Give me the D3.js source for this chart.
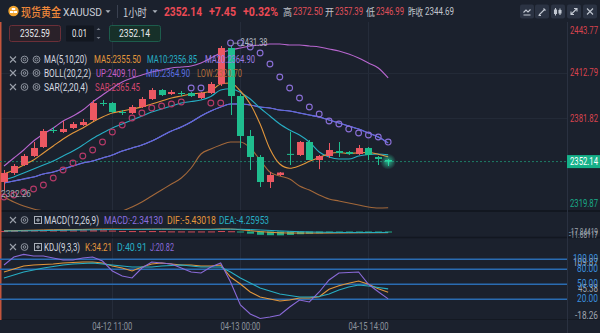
<!DOCTYPE html>
<html><head><meta charset="utf-8">
<script src="https://cdn.jsdelivr.net/npm/d3@7/dist/d3.min.js"></script>
<style>
html,body{margin:0;padding:0;background:#1b212d;overflow:hidden;}
svg{display:block;font-family:Roboto,"Noto Sans","Noto Sans CJK SC",sans-serif;}
</style></head><body>
<svg id="chart" width="600" height="333"></svg>
<script>
// ---------------- DATA ----------------
const times = [
 "04-12 00:00","04-12 01:00","04-12 02:00","04-12 03:00","04-12 04:00","04-12 05:00","04-12 06:00","04-12 07:00",
 "04-12 08:00","04-12 09:00","04-12 10:00","04-12 11:00","04-12 12:00","04-12 13:00","04-12 14:00","04-12 15:00",
 "04-12 16:00","04-12 17:00","04-12 18:00","04-12 19:00","04-12 20:00","04-12 21:00","04-12 22:00","04-12 23:00",
 "04-13 00:00","04-13 01:00","04-13 02:00","04-13 03:00","04-13 04:00",
 "04-15 06:00","04-15 07:00","04-15 08:00","04-15 09:00","04-15 10:00","04-15 11:00","04-15 12:00","04-15 13:00",
 "04-15 14:00","04-15 15:00","04-15 16:00"];
const timeTicks = ["04-12 11:00","04-13 00:00","04-15 14:00"];
const priceTicks = [2443.77, 2412.79, 2381.82, 2319.87];

const open  = [2338.24,2344.37,2349.82,2355.95,2362.07,2373.65,2372.29,2375.01,2377.05,2380.46,2392.03,2392.03,2385.90,2385.22,2389.31,2394.75,2400.88,2398.16,2398.84,2398.84,2395.43,2398.84,2404.96,2429.47,2396.79,2369.56,2355.27,2338.24,2343.01,2357.39,2356.63,2365.48,2353.22,2355.95,2359.35,2358.67,2357.31,2361.39,2355.27,2353.22];
const high  = [2346.41,2350.50,2357.31,2365.48,2374.33,2375.69,2379.77,2379.09,2381.14,2394.07,2394.07,2392.71,2387.26,2390.67,2396.11,2402.24,2401.56,2400.88,2400.20,2399.52,2399.52,2406.33,2430.84,2431.38,2398.16,2373.65,2356.63,2345.05,2345.05,2372.50,2366.16,2366.84,2356.63,2364.80,2365.48,2359.35,2363.44,2362.07,2355.95,2353.90];
const low   = [2332.26,2343.01,2349.14,2355.27,2361.39,2371.61,2371.61,2374.33,2376.37,2379.77,2389.99,2385.22,2383.86,2384.54,2388.63,2394.07,2396.79,2397.48,2396.79,2396.11,2394.75,2398.16,2403.60,2383.86,2361.39,2346.41,2334.84,2334.16,2342.33,2349.82,2355.95,2353.22,2346.99,2354.59,2355.27,2356.63,2356.63,2353.22,2349.82,2349.14];
const close = [2344.37,2349.14,2355.95,2361.39,2372.97,2372.97,2374.33,2377.73,2379.09,2392.03,2391.35,2385.90,2385.22,2389.31,2394.75,2400.88,2397.48,2399.52,2398.16,2396.79,2398.84,2404.96,2429.47,2396.79,2369.56,2355.27,2338.24,2343.01,2344.69,2356.80,2365.48,2353.22,2355.95,2360.03,2357.99,2357.31,2361.39,2356.63,2353.90,2352.14];

const ma5  = [2343.69,2346.41,2349.82,2353.22,2357.99,2362.76,2367.52,2371.61,2375.01,2379.09,2382.50,2385.22,2386.58,2387.94,2389.31,2391.35,2393.39,2395.43,2396.79,2398.16,2398.84,2400.20,2404.96,2405.65,2400.20,2391.35,2377.73,2360.71,2350.50,2347.60,2349.30,2352.30,2355.00,2357.50,2358.30,2357.60,2358.20,2358.30,2357.20,2355.50];
const ma10 = [2339.61,2341.65,2344.37,2347.10,2349.82,2352.54,2355.95,2359.35,2363.44,2367.86,2371.61,2375.01,2377.73,2380.46,2383.18,2385.90,2387.94,2389.99,2392.03,2393.05,2394.07,2396.45,2400.88,2401.76,2399.25,2394.75,2388.63,2383.18,2377.73,2373.65,2370.24,2365.48,2358.67,2355.27,2353.90,2353.90,2355.95,2356.97,2357.31,2356.85];
const ma20 = [2337.57,2338.93,2340.29,2341.65,2343.69,2345.05,2347.10,2349.14,2351.18,2352.54,2354.59,2356.63,2359.35,2361.39,2363.44,2366.16,2369.56,2372.97,2375.69,2379.09,2383.18,2386.58,2389.31,2391.35,2391.35,2390.67,2389.31,2388.63,2387.26,2386.58,2385.22,2383.86,2382.50,2380.46,2378.41,2376.37,2374.33,2371.61,2368.88,2364.90];
const bollUp  = [2349.14,2354.59,2360.03,2366.16,2370.93,2375.01,2379.77,2383.18,2387.26,2392.71,2397.48,2402.24,2406.33,2409.05,2411.09,2413.13,2414.50,2415.86,2416.54,2417.22,2419.26,2422.66,2426.07,2428.11,2429.47,2430.84,2431.52,2432.20,2432.20,2431.52,2431.52,2430.84,2430.15,2428.79,2427.43,2425.39,2422.66,2419.26,2415.86,2409.10];
const bollMid = ma20; // BOLL MID equals MA20
const bollLow = [2328.03,2324.63,2321.91,2319.87,2318.50,2317.14,2316.46,2315.78,2315.78,2316.46,2316.46,2317.14,2318.50,2321.23,2324.63,2328.71,2332.80,2336.89,2340.97,2347.78,2357.31,2360.71,2363.44,2365.48,2365.48,2361.39,2353.22,2345.05,2342.33,2340.29,2335.52,2332.80,2329.39,2326.67,2325.31,2323.95,2322.59,2321.23,2320.55,2320.70];
const sar = [2328.03,2329.39,2331.44,2333.48,2336.21,2340.97,2346.41,2351.18,2355.95,2360.03,2365.48,2372.29,2377.05,2381.82,2385.22,2388.63,2389.99,2391.35,2392.71,2402.24,2402.24,2392.03,2392.03,2432.90,2432.90,2430.15,2426.07,2418.58,2409.73,2402.24,2395.43,2389.31,2384.54,2379.77,2377.73,2374.33,2371.61,2370.24,2368.88,2365.45];

const dif  = [3.0,4.0,5.0,6.0,7.0,8.0,8.5,9.0,9.5,10.5,11.0,11.0,10.5,10.5,10.5,11.0,11.0,10.6,10.3,10.0,9.9,9.9,11.5,11.2,8.0,4.0,-0.5,-3.5,-6.0,-7.0,-7.0,-7.2,-7.2,-6.9,-6.6,-6.3,-5.9,-5.7,-5.6,-5.43];
const dea  = [2.0,2.4,2.9,3.5,4.2,5.0,5.7,6.4,7.0,7.7,8.4,8.9,9.2,9.5,9.7,10.0,10.2,10.3,10.1,9.8,9.7,9.6,10.0,10.3,10.1,8.9,7.0,4.9,2.7,0.8,-0.8,-2.1,-3.1,-3.9,-4.4,-4.7,-4.8,-4.7,-4.6,-4.26];
const macdHist = [2.0,3.2,4.2,5.0,5.6,6.0,5.6,5.2,5.0,5.6,5.2,4.2,2.6,2.0,1.6,2.0,1.6,0.6,0.4,0.3,0.3,0.4,2.2,1.2,-4.2,-9.8,-15.0,-16.8,-17.4,-15.6,-12.4,-10.2,-8.2,-6.0,-4.4,-3.2,-2.2,-2.0,-2.0,-2.34];

const kVal = [74.6,80.6,86.6,88.6,89.6,90.6,92.6,93.6,94.6,94.6,92.6,86.6,82.6,76.6,84.6,90.6,92.6,90.6,88.6,88.6,86.6,86.6,88.6,64.6,50.6,34.6,24.6,20.6,16.6,18.6,22.6,22.6,25.0,40.0,47.0,52.0,56.6,50.0,41.0,34.21];
const dVal = [62.6,68.6,74.6,78.6,82.6,85.6,88.6,90.6,91.6,92.6,90.6,88.6,86.6,84.6,84.6,84.6,86.6,87.6,88.6,86.6,84.6,84.6,84.6,74.6,62.6,52.6,42.6,36.6,30.6,27.6,24.6,24.6,25.6,30.6,38.6,44.6,48.6,46.6,43.6,40.91];
const jVal = [88.6,104.6,109.87,106.6,106.6,102.6,98.6,98.6,102.6,104.6,96.6,76.6,66.6,62.6,82.6,94.6,92.6,90.6,82.6,74.6,72.6,84.6,92.6,54.6,8.6,-9.4,-18.26,-15.4,-11.4,4.6,18.6,14.6,34.6,58.6,72.6,73.6,74.6,50.0,35.0,20.82];
const kdjLevels = [100, 80, 50, 20];

// ---------------- SETUP ----------------
const W=600,H=333, BG="#1b212d";
const RED="#ec5862", GREEN="#1fbd8e";
const C_MA5="#e3973c", C_MA10="#27aec4", C_MA20="#9a7ce2", C_MID="#5b69dc", C_UP="#b866cf", C_LOW="#a3683a";
const C_J="#8a6ad8";
const CJK='"Noto Sans CJK SC",sans-serif';
const svg=d3.select("#chart");
svg.append("rect").attr("width",W).attr("height",H).attr("fill",BG);
const defs=svg.append("defs");
function clip(id,y0,y1){defs.append("clipPath").attr("id",id).append("rect").attr("x",0).attr("y",y0).attr("width",567).attr("height",y1-y0);}
clip("cMain",22,210); clip("cMacd",212,236.5); clip("cKdj",238,319);
const gl=defs.append("radialGradient").attr("id","glow");
gl.append("stop").attr("offset","0%").attr("stop-color","#30f0b4").attr("stop-opacity",0.7);
gl.append("stop").attr("offset","100%").attr("stop-color","#30f0b4").attr("stop-opacity",0);

const x=d3.scaleBand().domain(times).range([-0.925,393.075]);
const xc=i=>x(times[i])+x.bandwidth()/2;
const yP=d3.scaleLinear().domain([2319.87,2443.77]).range([209,27]);
const yM=d3.scaleLinear().domain([-25,25]).range([237,226]);
const yK=d3.scaleLinear().domain([-18.26,109.87]).range([318.43,254.36]);
const idx=d3.range(times.length);

function T(g,x,y,s,fill,size,w,o={}){
  const t=g.append("text").attr("x",x).attr("y",y).attr("fill",fill).attr("font-size",size)
   .attr("dominant-baseline","central").attr("text-anchor",o.anchor||"start").text(s);
  if(o.weight) t.attr("font-weight",o.weight);
  if(o.family) t.attr("font-family",o.family);
  if(w) t.attr("textLength",w).attr("lengthAdjust","spacingAndGlyphs");
  return t;
}

// ---------------- GRID / FRAME ----------------
const grid=svg.append("g");
timeTicks.forEach(t=>{const xx=Math.round(x(t)+x.bandwidth()/2)+0.5;
  grid.append("line").attr("x1",xx).attr("x2",xx).attr("y1",22).attr("y2",319).attr("stroke","#252c3a");});
priceTicks.slice(1,3).forEach(v=>{const yy=Math.round(yP(v))+0.5;
  grid.append("line").attr("x1",0).attr("x2",567).attr("y1",yy).attr("y2",yy).attr("stroke","#232a37");});
grid.append("line").attr("x1",0).attr("x2",600).attr("y1",211).attr("y2",211).attr("stroke","#121720").attr("stroke-width",2);
grid.append("line").attr("x1",0).attr("x2",600).attr("y1",237.5).attr("y2",237.5).attr("stroke","#121720").attr("stroke-width",1.5);
grid.append("line").attr("x1",0).attr("x2",600).attr("y1",319.5).attr("y2",319.5).attr("stroke","#141922").attr("stroke-width",1);
grid.append("line").attr("x1",567.5).attr("x2",567.5).attr("y1",22).attr("y2",333).attr("stroke","#2a3140");
grid.append("line").attr("x1",0.75).attr("x2",0.75).attr("y1",22).attr("y2",320).attr("stroke","#c4553c").attr("stroke-width",1.5);

// ---------------- MAIN PANE ----------------
const main=svg.append("g").attr("clip-path","url(#cMain)");
// current price dotted line
const yCur=yP(close[close.length-1]);
main.append("line").attr("x1",0).attr("x2",567).attr("y1",yCur).attr("y2",yCur)
  .attr("stroke","#1e7d66").attr("stroke-dasharray","2,2");
const lineP=arr=>d3.line().x((d,i)=>xc(i)).y(d=>yP(d)).curve(d3.curveMonotoneX)(arr);
[[bollLow,C_LOW],[bollUp,C_UP],[ma20,C_MA20],[bollMid,C_MID],[ma10,C_MA10],[ma5,C_MA5]].forEach(([a,c])=>{
  main.append("path").attr("d",lineP(a)).attr("fill","none").attr("stroke",c).attr("stroke-width",1.1);
});
// candles
const cg=main.append("g");
idx.forEach(i=>{
  const up=close[i]>=open[i], col=up?RED:GREEN, cx=Math.round(xc(i))+0.5;
  cg.append("line").attr("x1",cx).attr("x2",cx).attr("y1",yP(high[i])).attr("y2",yP(low[i])).attr("stroke",col);
  const y0=yP(Math.max(open[i],close[i])), y1=yP(Math.min(open[i],close[i]));
  cg.append("rect").attr("x",cx-3.5).attr("y",y0).attr("width",7).attr("height",Math.max(1,y1-y0)).attr("fill",col);
});
const last=times.length-1;
main.append("circle").attr("cx",xc(last)).attr("cy",yCur).attr("r",8).attr("fill","url(#glow)");
// SAR
idx.forEach(i=>{
  main.append("circle").attr("cx",xc(i)).attr("cy",yP(sar[i])).attr("r",2.9).attr("fill","none")
   .attr("stroke",sar[i]>close[i]?"#8a6fd6":"#b53a68").attr("stroke-width",1.1);
});
// high / low markers
const hi=d3.maxIndex(high), lo=d3.minIndex(low);
main.append("line").attr("x1",xc(hi)+2).attr("x2",xc(hi)+9).attr("y1",yP(high[hi])-2).attr("y2",yP(high[hi])-2).attr("stroke","#8d939e");
T(main,xc(hi)+10,yP(high[hi])-3,high[hi].toFixed(2),"#aeb4be",10,27);
T(main,1,yP(low[lo])+2.7,low[lo].toFixed(2),"#a2a8b2",9.5,30);

// price axis
const ax=svg.append("g");
priceTicks.forEach(v=>{
  const yy=Math.max(30,Math.min(203,yP(v)));
  T(ax,598,yy,v.toFixed(2),v<close[last]?"#19a987":"#d8434e",10,28,{anchor:"end"});
});
ax.append("rect").attr("x",567).attr("y",yCur-6.5).attr("width",33).attr("height",13).attr("fill","#16b189");
T(ax,598,yCur,close[last].toFixed(2),"#ffffff",10,28,{anchor:"end"});

// ---------------- MACD PANE ----------------
const mg=svg.append("g").attr("clip-path","url(#cMacd)");
idx.forEach(i=>{
  const v=macdHist[i], y0=yM(Math.max(0,v)), y1=yM(Math.min(0,v));
  mg.append("rect").attr("x",Math.round(xc(i))-3).attr("y",y0).attr("width",7).attr("height",Math.max(1,y1-y0))
    .attr("fill",v>=0?"#d44a55":"#1fae88");
});
const lineM=arr=>d3.line().x((d,i)=>xc(i)).y(d=>yM(d)).curve(d3.curveMonotoneX)(arr);
mg.append("path").attr("d",lineM(dif)).attr("fill","none").attr("stroke",C_MA5).attr("stroke-width",1);
mg.append("path").attr("d",lineM(dea)).attr("fill","none").attr("stroke",C_MA10).attr("stroke-width",1);
T(ax,598,231.5,"-17.84419","#9ea4ae",9.5,29,{anchor:"end"});
T(ax,598,234.5,"-11.68117","#9ea4ae",9.5,29,{anchor:"end"});

// ---------------- KDJ PANE ----------------
const kg=svg.append("g").attr("clip-path","url(#cKdj)");
kdjLevels.forEach(v=>{kg.append("line").attr("x1",0).attr("x2",567).attr("y1",yK(v)).attr("y2",yK(v))
  .attr("stroke","#2a6cb2").attr("stroke-width",1.4);});
const lineK=arr=>d3.line().x((d,i)=>xc(i)).y(d=>yK(d))(arr);
[[kVal,C_MA5],[dVal,C_MA10],[jVal,C_J]].forEach(([a,c])=>{
  kg.append("path").attr("d",lineK(a)).attr("fill","none").attr("stroke",c).attr("stroke-width",1.1);
});
kdjLevels.forEach(v=>T(ax,598,yK(v)-0.5,v.toFixed(2),"#3a8ddc",10,v>=100?25:21,{anchor:"end"}));
T(ax,598,yK(100)+3,d3.max(jVal).toFixed(2),"#9ea4ae",10,25,{anchor:"end"}).lower();
T(ax,598,yK(50)+4.5,"45.38","#9ea4ae",10,20,{anchor:"end"}).lower();
T(ax,598,Math.min(315,yK(d3.min(jVal))),d3.min(jVal).toFixed(2),"#9ea4ae",10,23,{anchor:"end"});

// ---------------- TIME AXIS ----------------
const xa=svg.append("g").attr("transform","translate(0,319)")
  .call(d3.axisBottom(x).tickValues(timeTicks).tickSize(0));
xa.select(".domain").remove();
xa.selectAll("text").attr("y",8).attr("dy","0.32em").attr("fill","#8b919c").attr("font-size",10)
  .attr("font-family","Roboto,sans-serif").attr("textLength",40).attr("lengthAdjust","spacingAndGlyphs");

// ---------------- HEADER ----------------
const hd=svg.append("g");
hd.append("circle").attr("cx",13.5).attr("cy",11).attr("r",5.2).attr("fill","#f2a531");
hd.append("rect").attr("x",11.8).attr("y",8).attr("width",3.4).attr("height",2).attr("fill","#fff");
hd.append("rect").attr("x",10).attr("y",11).attr("width",3.3).attr("height",2).attr("fill","#fff");
hd.append("rect").attr("x",13.8).attr("y",11).attr("width",3.3).attr("height",2).attr("fill","#fff");
T(hd,21,11.5,"现货黄金","#f0883a",12,40,{family:CJK,weight:500});
T(hd,63,11.5,"XAUUSD","#c9cdd6",11.5,39);
const tri=(g,cx,cy)=>g.append("path").attr("d",`M${cx-2.5},${cy-1.3}L${cx+2.5},${cy-1.3}L${cx},${cy+1.5}Z`).attr("fill","#aab0ba");
tri(hd,108,11.5);
hd.append("line").attr("x1",117.5).attr("x2",117.5).attr("y1",5).attr("y2",18).attr("stroke","#3a4150");
T(hd,123,11.5,"1小时","#c9cdd6",11.5,24,{family:CJK});
tri(hd,155,11.5);
T(hd,164,11.5,"2352.14","#ec4a55",12,38,{weight:"bold"});
T(hd,209,11.5,"+7.45","#ec4a55",12,27,{weight:"bold"});
T(hd,243,11.5,"+0.32%","#ec4a55",12,35,{weight:"bold"});
T(hd,283,11.5,"高","#c0c4cc",10,9,{family:CJK});
T(hd,293,11.5,"2372.50","#e0505a",10.5,30);
T(hd,325,11.5,"开","#c0c4cc",10,9,{family:CJK});
T(hd,335,11.5,"2357.39","#e0505a",10.5,28);
T(hd,366,11.5,"低","#c0c4cc",10,9,{family:CJK});
T(hd,376,11.5,"2346.99","#e0505a",10.5,28);
T(hd,408,11.5,"昨收","#c0c4cc",10,15,{family:CJK});
T(hd,425,11.5,"2344.69","#c0c4cc",10.5,29);
// buttons
const icons=[
 "M3.5,10.5H10.5M3.5,8L6,5.5L8,7.5L10.5,5",
 "M4,10.5L9.5,5M8.5,4L10.5,6M3.5,11H6",
 "M4.5,3.5V11M9,4V10.5M3.5,5.5H5.5V9H3.5ZM8,6H10V8.5H8Z",
 "M4,10L10,4M7,4H10V7M4,7V10H7",
 "M4,4L10,10M10,4L4,10"];
[520,535,551,567,583].forEach((bx,k)=>{
  const b=hd.append("g").attr("transform",`translate(${bx},4.5)`);
  b.append("rect").attr("width",14).attr("height",14).attr("rx",2).attr("fill","#2b3343");
  b.append("path").attr("d",icons[k]).attr("fill","none").attr("stroke","#c2c8d2").attr("stroke-width",1.1);
});
// input boxes
hd.append("rect").attr("x",9.5).attr("y",25.5).attr("width",51).attr("height",16).attr("rx",2).attr("fill","#2a2129").attr("stroke","#6b2f38");
T(hd,35,33.5,"2352.59","#e6e8ec",10.5,30,{anchor:"middle"});
hd.append("rect").attr("x",66).attr("y",25.5).attr("width",28).attr("height",16).attr("rx",1).attr("fill","#121720");
T(hd,79.5,33.5,"0.01","#e6e8ec",10.5,15,{anchor:"middle"});
hd.append("path").attr("d","M96.5,30L98.5,28L100.5,30Z M96.5,37L98.5,39L100.5,37Z").attr("fill","#7a808c");
hd.append("rect").attr("x",109.5).attr("y",25.5).attr("width",51).attr("height",16).attr("rx",2).attr("fill","#173029").attr("stroke","#1d5c4c");
T(hd,134.5,33.5,"2352.14","#e6e8ec",10.5,31,{anchor:"middle"});

// legend rows
function ctrl(g,y,third){
  g.append("path").attr("d",`M10,${y-3}L16,${y+3}M16,${y-3}L10,${y+3}`).attr("stroke","#9aa0aa").attr("stroke-width",1.1);
  g.append("circle").attr("cx",24.5).attr("cy",y).attr("r",3.4).attr("fill","none").attr("stroke","#8d939e");
  g.append("circle").attr("cx",24.5).attr("cy",y).attr("r",1.3).attr("fill","none").attr("stroke","#8d939e");
  if(third){
    g.append("rect").attr("x",34.5).attr("y",y-3.5).attr("width",7).attr("height",7).attr("fill","none").attr("stroke","#aab0ba");
    g.append("path").attr("d",`M38,${y-2}V${y+2}M36,${y}H40`).attr("stroke","#aab0ba");
  } else {
    g.append("circle").attr("cx",36.5).attr("cy",y).attr("r",3.4).attr("fill","none").attr("stroke","#8d939e");
    g.append("circle").attr("cx",36.5).attr("cy",y).attr("r",1.5).attr("fill","none").attr("stroke","#8d939e");
  }
}
const lg=svg.append("g");
const W1="#d5d9e0";
ctrl(lg,59.5,false);
T(lg,44,59.5,"MA(5,10,20)",W1,10,43);
T(lg,94,59.5,"MA5:"+ma5[last].toFixed(2),C_MA5,10,47);
T(lg,147,59.5,"MA10:"+ma10[last].toFixed(2),C_MA10,10,50);
T(lg,205,59.5,"MA20:"+ma20[last].toFixed(2),C_MA20,10,50);
ctrl(lg,73,false);
T(lg,44,73,"BOLL(20,2,2)",W1,10,47);
T(lg,96,73,"UP:"+bollUp[last].toFixed(2),"#c25fc9",10,40);
T(lg,146,73,"MID:"+bollMid[last].toFixed(2),"#5a70e0",10,44);
T(lg,197,73,"LOW:"+bollLow[last].toFixed(2),"#b06d3a",10,45);
ctrl(lg,87,false);
T(lg,44,87,"SAR(2,20,4)",W1,10,44);
T(lg,95,87,"SAR:"+sar[last].toFixed(2),"#d2466f",10,45);
ctrl(lg,220,true);
T(lg,44,220,"MACD(12,26,9)",W1,10,55);
T(lg,104,220,"MACD:-2.34130","#8c6fe0",10,59);
T(lg,167,220,"DIF:-5.43018",C_MA5,10,49);
T(lg,219,220,"DEA:-4.25953",C_MA10,10,50);
ctrl(lg,247,true);
T(lg,44,247,"KDJ(9,3,3)",W1,10,36);
T(lg,85,247,"K:"+kVal[last].toFixed(2),C_MA5,10,27);
T(lg,117,247,"D:"+dVal[last].toFixed(2),C_MA10,10,30);
T(lg,150,247,"J:"+jVal[last].toFixed(2),C_J,10,24);
</script></body></html>
